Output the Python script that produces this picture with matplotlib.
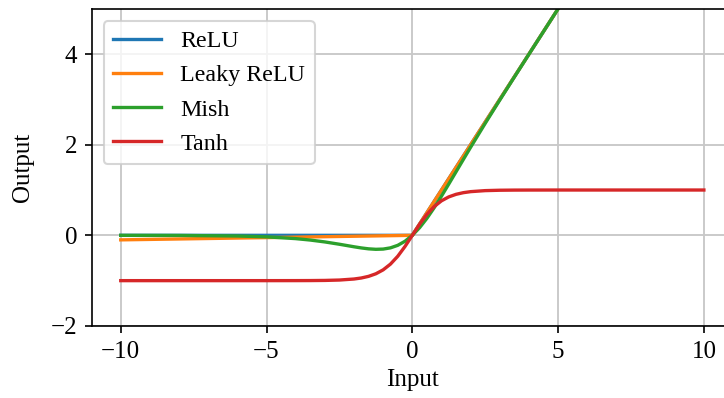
import numpy as np
import matplotlib
matplotlib.use("Agg")
import matplotlib.pyplot as plt

# sample points
x = [-10, -8, -6, -5, -4, -3.5, -3, -2.5, -2, -1.75, -1.5, -1.25, -1, -0.75, -0.5, -0.25,
     0, 0.25, 0.5, 0.75, 1, 1.25, 1.5, 1.75, 2, 2.5, 3, 3.5, 4, 5, 6, 8, 10]

relu = [0, 0, 0, 0, 0, 0, 0, 0, 0, 0, 0, 0, 0, 0, 0, 0,
        0, 0.25, 0.5, 0.75, 1, 1.25, 1.5, 1.75, 2, 2.5, 3, 3.5, 4, 5, 6, 8, 10]

leaky_relu = [-0.1, -0.08, -0.06, -0.05, -0.04, -0.035, -0.03, -0.025, -0.02, -0.0175, -0.015,
              -0.0125, -0.01, -0.0075, -0.005, -0.0025,
              0, 0.25, 0.5, 0.75, 1, 1.25, 1.5, 1.75, 2, 2.5, 3, 3.5, 4, 5, 6, 8, 10]

mish = [-0.0005, -0.0027, -0.0149, -0.0336, -0.0726, -0.1041, -0.1457, -0.1968, -0.2525, -0.2780,
        -0.2981, -0.3084, -0.3034, -0.2765, -0.2207, -0.1299,
        0, 0.1696, 0.3753, 0.6100, 0.8651, 1.1318, 1.4031, 1.6747, 1.9441, 2.4715, 2.9865,
        3.4940, 3.9974, 4.9996, 6.0, 8.0, 10.0]

tanh = [-1.0, -1.0, -1.0, -0.9999, -0.9993, -0.9982, -0.9951, -0.9866, -0.9640, -0.9414,
        -0.9051, -0.8483, -0.7616, -0.6351, -0.4621, -0.2449,
        0, 0.2449, 0.4621, 0.6351, 0.7616, 0.8483, 0.9051, 0.9414, 0.9640, 0.9866, 0.9951,
        0.9982, 0.9993, 0.9999, 1.0, 1.0, 1.0]

labels = ["ReLU", "Leaky ReLU", "Mish", "Tanh"]

plt.rcParams['font.family'] = ['Liberation Serif', 'DejaVu Serif']
plt.rcParams['font.size'] = 12

fig = plt.figure(figsize=(724 / 150, 398 / 150), dpi=150)
ax = fig.add_axes([0.1265, 0.181, 0.886, 0.797])

for ys, lab in zip([relu, leaky_relu, mish, tanh], labels):
    ax.plot(x, ys, lw=1.6, label=lab)

ax.set_xlim(-11, 11)
ax.set_ylim(-2, 5)
ax.set_xticks([-10, -5, 0, 5, 10])
ax.set_yticks([-2, 0, 2, 4])
ax.grid(True, color='#c8c8c8', lw=0.9)
ax.set_xlabel("Input", labelpad=3)
ax.set_ylabel("Output", labelpad=8)
ax.legend(loc="upper left", fontsize=11.5, borderaxespad=0.5, labelspacing=0.52)

fig.savefig("out.png", dpi=150)
